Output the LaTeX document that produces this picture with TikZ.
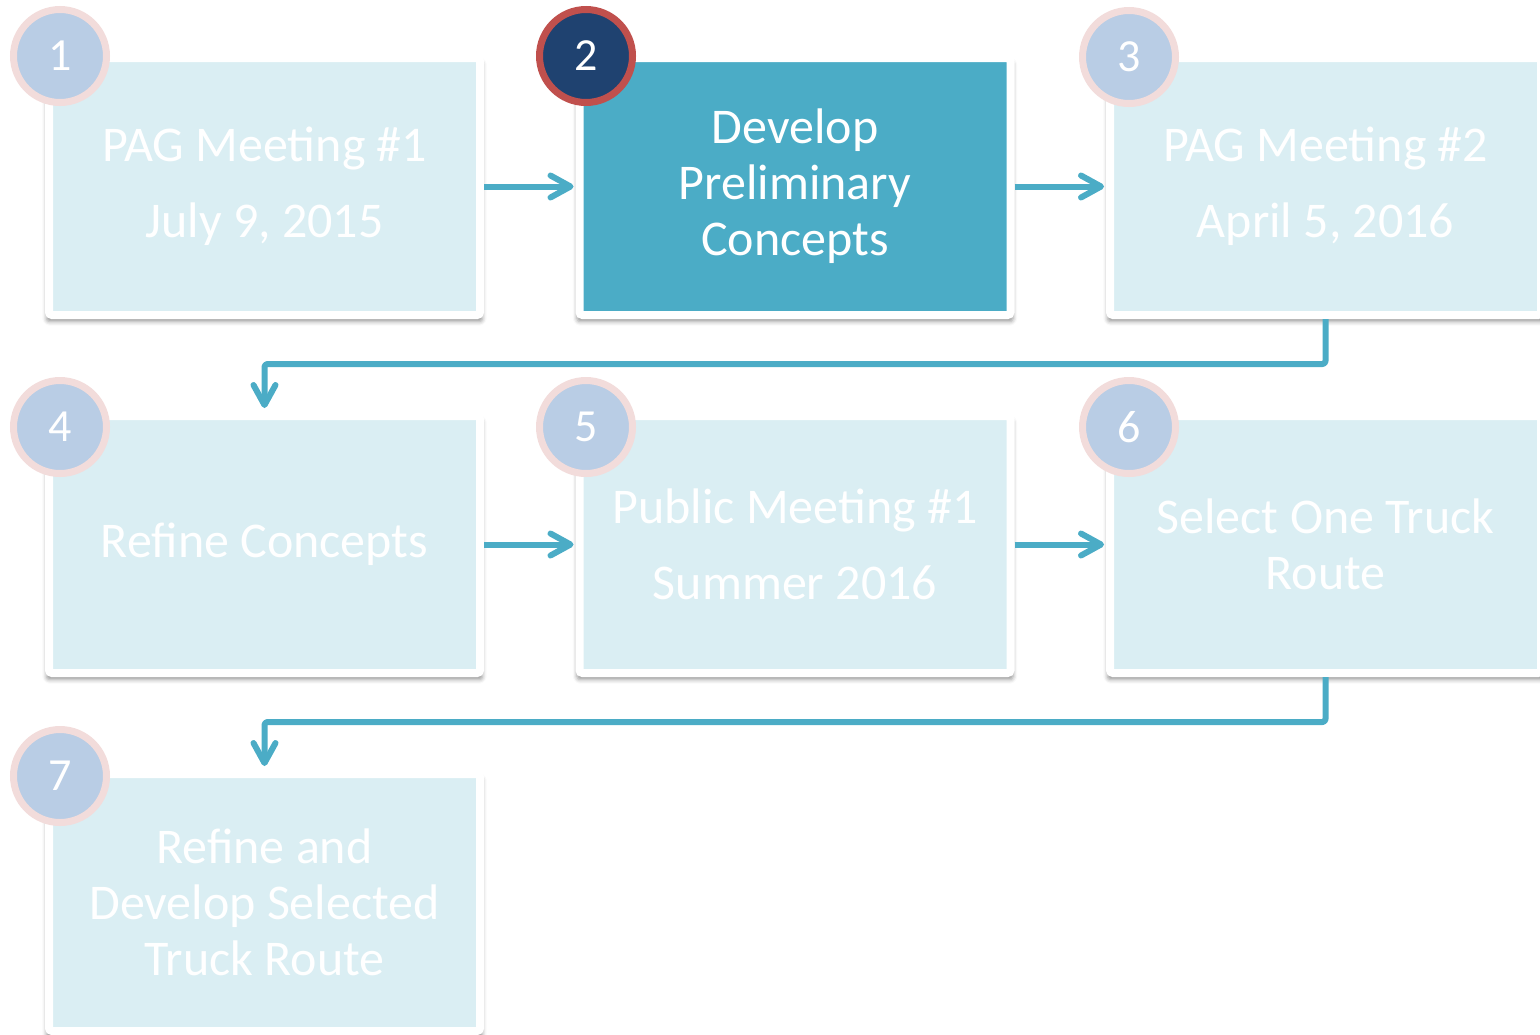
\documentclass[tikz,border=0pt]{standalone}
\usepackage{fontspec}
\setmainfont{Carlito}
\usepackage{xcolor}
\usetikzlibrary{positioning,arrows.meta,shadows.blur}

\definecolor{flowcyan}{HTML}{4BACC6}
\definecolor{cardfill}{HTML}{DAEEF3}
\definecolor{discfill}{HTML}{B9CDE5}
\definecolor{discring}{HTML}{F2DCDB}
\definecolor{darkdisc}{HTML}{1F4270}
\definecolor{darkring}{HTML}{C0504D}

\begin{document}
\begin{tikzpicture}[
  x=0.5pt, y=-0.5pt,
  card/.style={draw=white, line width=4pt, fill=cardfill, rounded corners=1.5pt,
    minimum width=215.5pt, minimum height=128.5pt, inner sep=0pt,
    align=center, text=white, font=\fontsize{25pt}{28pt}\selectfont,
    blur shadow={shadow xshift=0pt, shadow yshift=-2.5pt, shadow scale=1.012,
      shadow blur radius=2pt, shadow opacity=40}},
  hotcard/.style={card, fill=flowcyan},
  disc/.style={circle, minimum size=46.5pt, inner sep=0pt, line width=3.5pt,
    draw=discring, fill=discfill, text=white, font=\fontsize{23pt}{23pt}\selectfont},
  hotdisc/.style={disc, draw=darkring, fill=darkdisc},
  flow/.style={draw=flowcyan, line width=3pt, line join=round, rounded corners=1.5pt,
    -{Straight Barb[length=10pt, width=11pt, line cap=round, line join=round]}},
]
  \useasboundingbox (0,0) rectangle (1540,1034);

  % --- Cards ---
  \node[card] (b1) at (264.5,186.5) {PAG Meeting \#1\\[10pt]July 9, 2015};
  \node[hotcard] (b2) at (795,186.5) {Develop\\Preliminary\\Concepts};
  \node[card] (b3) at (1325.5,186.5) {PAG Meeting \#2\\[10pt]April 5, 2016};
  \node[card] (b4) at (264.5,544.5) {Refine Concepts};
  \node[card] (b5) at (795,544.5) {Public Meeting \#1\\[10pt]Summer 2016};
  \node[card] (b6) at (1325.5,544.5) {Select One Truck\\Route};
  \node[card] (b7) at (264.5,902.5) {Refine and\\Develop Selected\\Truck Route};

  % --- Connectors ---
  \draw[flow, shorten >=1pt] (b1.east) -- (b2.west);
  \draw[flow, shorten >=1pt] (b2.east) -- (b3.west);
  \draw[flow, shorten >=2pt] (b3.south) -- ++(0,45) -| (b4.north);
  \draw[flow, shorten >=1pt] (b4.east) -- (b5.west);
  \draw[flow, shorten >=1pt] (b5.east) -- (b6.west);
  \draw[flow, shorten >=2pt] (b6.south) -- ++(0,45) -| (b7.north);

  % --- Step numbers ---
  \foreach \n/\x/\y in {1/60/56, 3/1129/57, 4/60/427, 5/586/427, 6/1129/427, 7/60/776}
    \node[disc] (d\n) at (\x,\y) {\n};
  \node[hotdisc] (d2) at (586,56) {2};
\end{tikzpicture}
\end{document}
